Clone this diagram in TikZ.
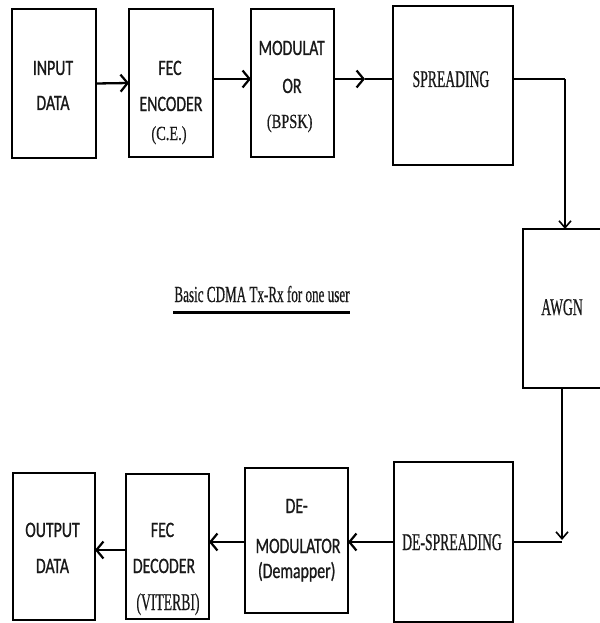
\documentclass[tikz,border=0pt]{standalone}
\usepackage{fontspec}
\usetikzlibrary{arrows.meta}
\newfontfamily\cfont[FakeStretch=0.72,FakeBold=0.8]{Carlito}
\newfontfamily\tfont[FakeStretch=0.57,FakeBold=0.5]{Liberation Serif}
\newfontfamily\tsfont[FakeStretch=0.72,FakeBold=0.5]{Liberation Serif}
\begin{document}
\begin{tikzpicture}[x=1pt,y=-1pt,
  blk/.style={draw, line width=2.3pt, inner sep=0pt, outer sep=0pt},
  conn/.style={line width=2.3pt},
  arr/.style={conn, -{Straight Barb[length=7pt,width=17pt,line width=2.2pt]}},
  arrv/.style={line width=1.8pt, -{Straight Barb[length=7pt,width=12pt,line width=1.6pt]}},
  lbl/.style={anchor=base, inner sep=0pt, text=black!90},
  cal/.style={lbl, font=\cfont\fontsize{22}{26}\selectfont},
  tms/.style={lbl, font=\tfont\fontsize{24}{28}\selectfont},
  tmss/.style={lbl, font=\tsfont\fontsize{20}{24}\selectfont}]
\useasboundingbox (0,0) rectangle (599,623);
\fill[white] (0,0) rectangle (599,623);
% boxes
\node[blk, minimum width=84pt, minimum height=149pt] (inp) at (54,83.5) {};
\node[blk, minimum width=84pt, minimum height=148pt] (fecenc) at (171,83) {};
\node[blk, minimum width=83pt, minimum height=148pt] (mod) at (292.5,83) {};
\node[blk, minimum width=120pt, minimum height=159pt] (spread) at (453,85.5) {};
\node[blk, minimum width=92pt, minimum height=159pt] (awgn) at (569,308.5) {};
\node[blk, minimum width=119pt, minimum height=160pt] (despread) at (453.5,542) {};
\node[blk, minimum width=103pt, minimum height=145pt] (demod) at (296.5,540.5) {};
\node[blk, minimum width=83pt, minimum height=145pt] (fecdec) at (167.5,546.5) {};
\node[blk, minimum width=82pt, minimum height=147pt] (outp) at (54,546.5) {};
% labels
\node[cal] (t1a) at (53,75) {INPUT};
\node[cal] (t1b) at (53,110) {DATA};
\node[cal] (t2a) at (170,75) {FEC};
\node[cal] (t2b) at (171,111) {ENCODER};
\node[tmss] (t2c) at (169,140) {(C.E.)};
\node[cal] (t3a) at (291.7,55) {MODULAT};
\node[cal] (t3b) at (292,93) {OR};
\node[tmss] (t3c) at (289.7,128) {(BPSK)};
\node[tms] (t4) at (451,87) {SPREADING};
\node[tms] (t5) at (562,315) {AWGN};
\node[tms] (t6) at (452,550) {DE-SPREADING};
\node[cal] (t7a) at (296.7,513) {DE-};
\node[cal] (t7b) at (298,553) {MODULATOR};
\node[cal] (t7c) at (296.7,578) {(Demapper)};
\node[cal] (t8a) at (162.5,537) {FEC};
\node[cal] (t8b) at (164,573) {DECODER};
\node[tms] (t8c) at (168,610) {(VITERBI)};
\node[cal] (t9a) at (52.5,537) {OUTPUT};
\node[cal] (t9b) at (52.5,573) {DATA};
\node[tms, font=\tfont\fontsize{23}{27}\selectfont] (cap) at (262,302) {Basic CDMA Tx-Rx for one user};
\coordinate (ulA) at (173,312);
\coordinate (ulB) at (350,312);
\draw[line width=3pt] (ulA) -- (ulB);
% connectors
\coordinate (rowA) at (0,79);
\coordinate (midA) at (365,79);
\coordinate (colA) at (565,0);
\coordinate (colB) at (562,0);
\coordinate (tipB) at (562,540);
\coordinate (rowD) at (0,550);
\draw[arr] (inp.east) -- (fecenc.west);
\draw[arr] (fecenc.east |- rowA) -- (mod.west |- rowA);
\draw[arr] (mod.east |- rowA) -- (midA);
\draw[conn] (midA) -- (spread.west |- rowA);
\draw[conn] (spread.east |- rowA) -- (colA |- rowA);
\draw[arrv] (colA |- rowA) -- (colA |- awgn.north);
\draw[arrv] (colB |- awgn.south) -- (tipB);
\draw[conn] (despread.east) -- (tipB |- despread.east);
\draw[arr] (despread.west) -- (demod.east |- despread.west);
\draw[arr] (demod.west |- despread.west) -- (fecdec.east |- despread.west);
\draw[arr] (fecdec.west |- rowD) -- (outp.east |- rowD);
\end{tikzpicture}
\end{document}
